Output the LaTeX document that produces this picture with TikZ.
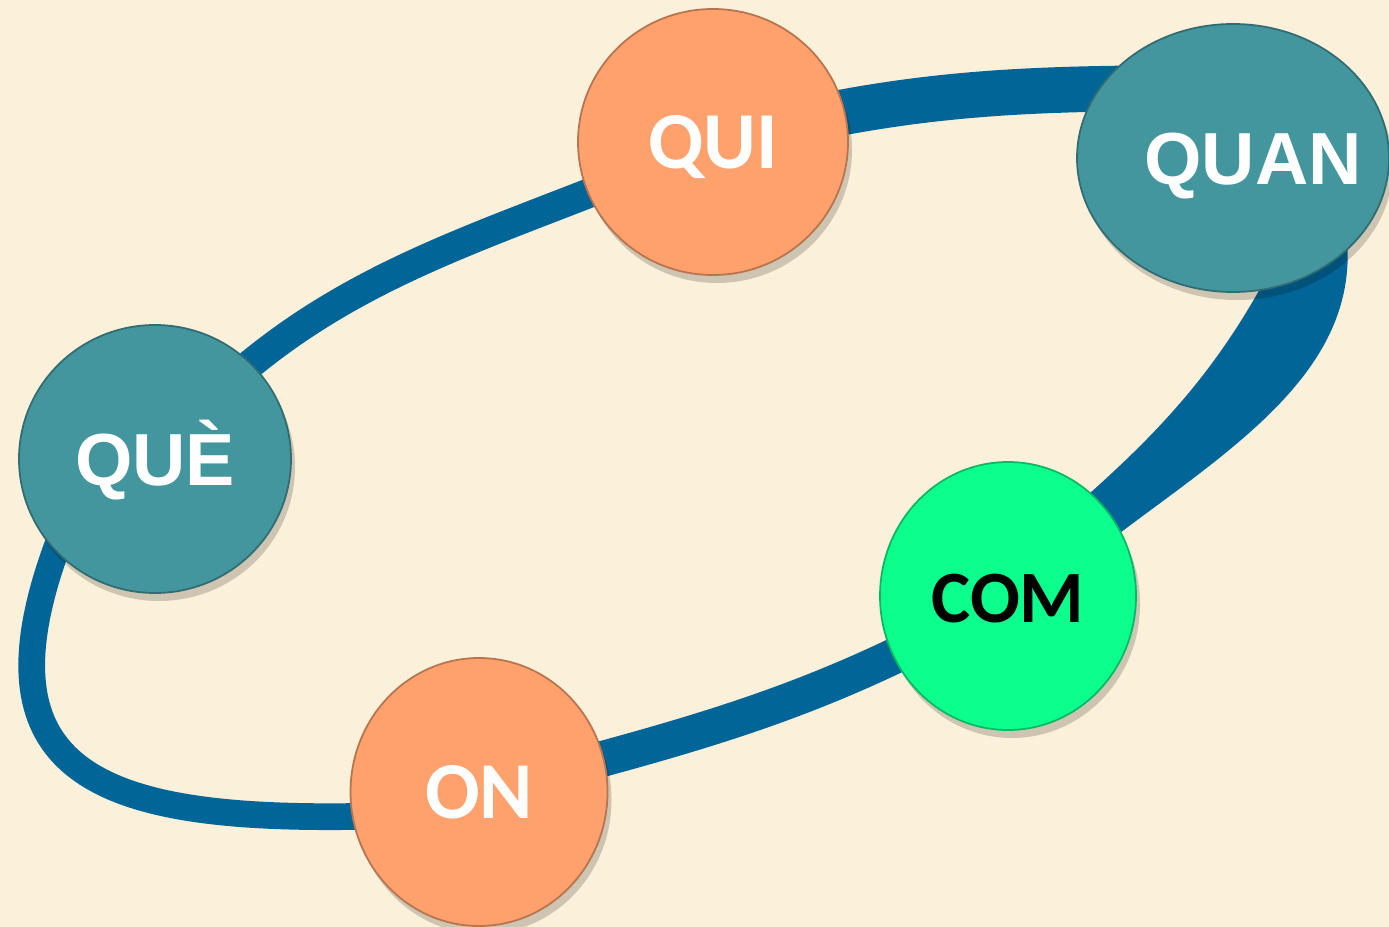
\documentclass[tikz,border=0pt]{standalone}
\usepackage{fontspec}
\newfontfamily\headfont{Liberation Sans}
\newfontfamily\wordfont{Carlito}
\usetikzlibrary{shapes.geometric,shadows}
\definecolor{paper}{RGB}{251,240,218}
\definecolor{ringblue}{RGB}{1,101,151}
\definecolor{tealball}{RGB}{68,150,158}
\definecolor{peachball}{RGB}{254,161,108}
\definecolor{mintball}{RGB}{12,255,140}
\pgfdeclarelayer{paper}
\pgfdeclarelayer{ring}
\pgfsetlayers{paper,ring,main}

\begin{document}
\begin{tikzpicture}[
  ball/.style={ellipse, draw=#1!72!black, line width=0.5pt, fill=#1,
    text height=15pt, text depth=0pt,
    drop shadow={shadow xshift=0.4mm, shadow yshift=-0.8mm, opacity=0.18, fill=black}},
  arialword/.style={font=\headfont\bfseries\fontsize{21pt}{21pt}\selectfont, text=white},
  caliword/.style={font=\wordfont\bfseries\fontsize{23pt}{23pt}\selectfont, text=white},
  ring/.style={draw=ringblue, line width=#1}
]
\tikzstyle{every node}+=[inner sep=0pt]
\useasboundingbox (0,0) rectangle (13.89,-9.27);
\begin{pgfonlayer}{paper}
\fill[paper] (0,0) rectangle (13.89,-9.27);
\end{pgfonlayer}

% the five words on the loop
\node[ball=tealball, arialword, minimum width=2.72cm, minimum height=2.68cm] (que) at (1.55,-4.59) {QUÈ};
\node[ball=peachball, caliword, minimum width=2.70cm, minimum height=2.66cm] (qui) at (7.13,-1.42) {QUI};
\node[ball=tealball, arialword, minimum width=3.12cm, minimum height=2.68cm] (quan) at (12.33,-1.58) {\makebox[0pt]{\hspace*{4mm}QUAN}};
\node[ball=mintball, caliword, text=black, font=\wordfont\bfseries\fontsize{21pt}{21pt}\selectfont,
  minimum width=2.56cm, minimum height=2.68cm] (com) at (10.08,-5.96) {COM};
\node[ball=peachball, caliword, minimum width=2.57cm, minimum height=2.68cm] (on) at (4.79,-7.92) {ON};

% the band behind them
\begin{pgfonlayer}{ring}
\draw[ring=8.4pt] (que.center) to[out=50,in=204] (qui.center);
\draw[ring=13pt] (qui.center) to[out=15,in=180] ([yshift=7mm]quan.center);
\fill[ringblue] ([shift={(1.07,-0.42)}]quan.center) to[out=-75,in=40] ([shift={(0.52,0.16)}]com.center)
  -- ([shift={(-0.08,0.26)}]com.center) to[out=40,in=245] ([shift={(0.57,-0.72)}]quan.center) -- cycle;
\draw[ring=10.2pt] (com.center) to[out=210,in=15] (on.center);
\draw[ring=7.6pt] ([yshift=-2mm]on.center) to[out=183,in=245,out distance=3.6cm,in distance=3.6cm] ([shift={(-0.7,-0.21)}]que.center);
\end{pgfonlayer}
\end{tikzpicture}
\end{document}
